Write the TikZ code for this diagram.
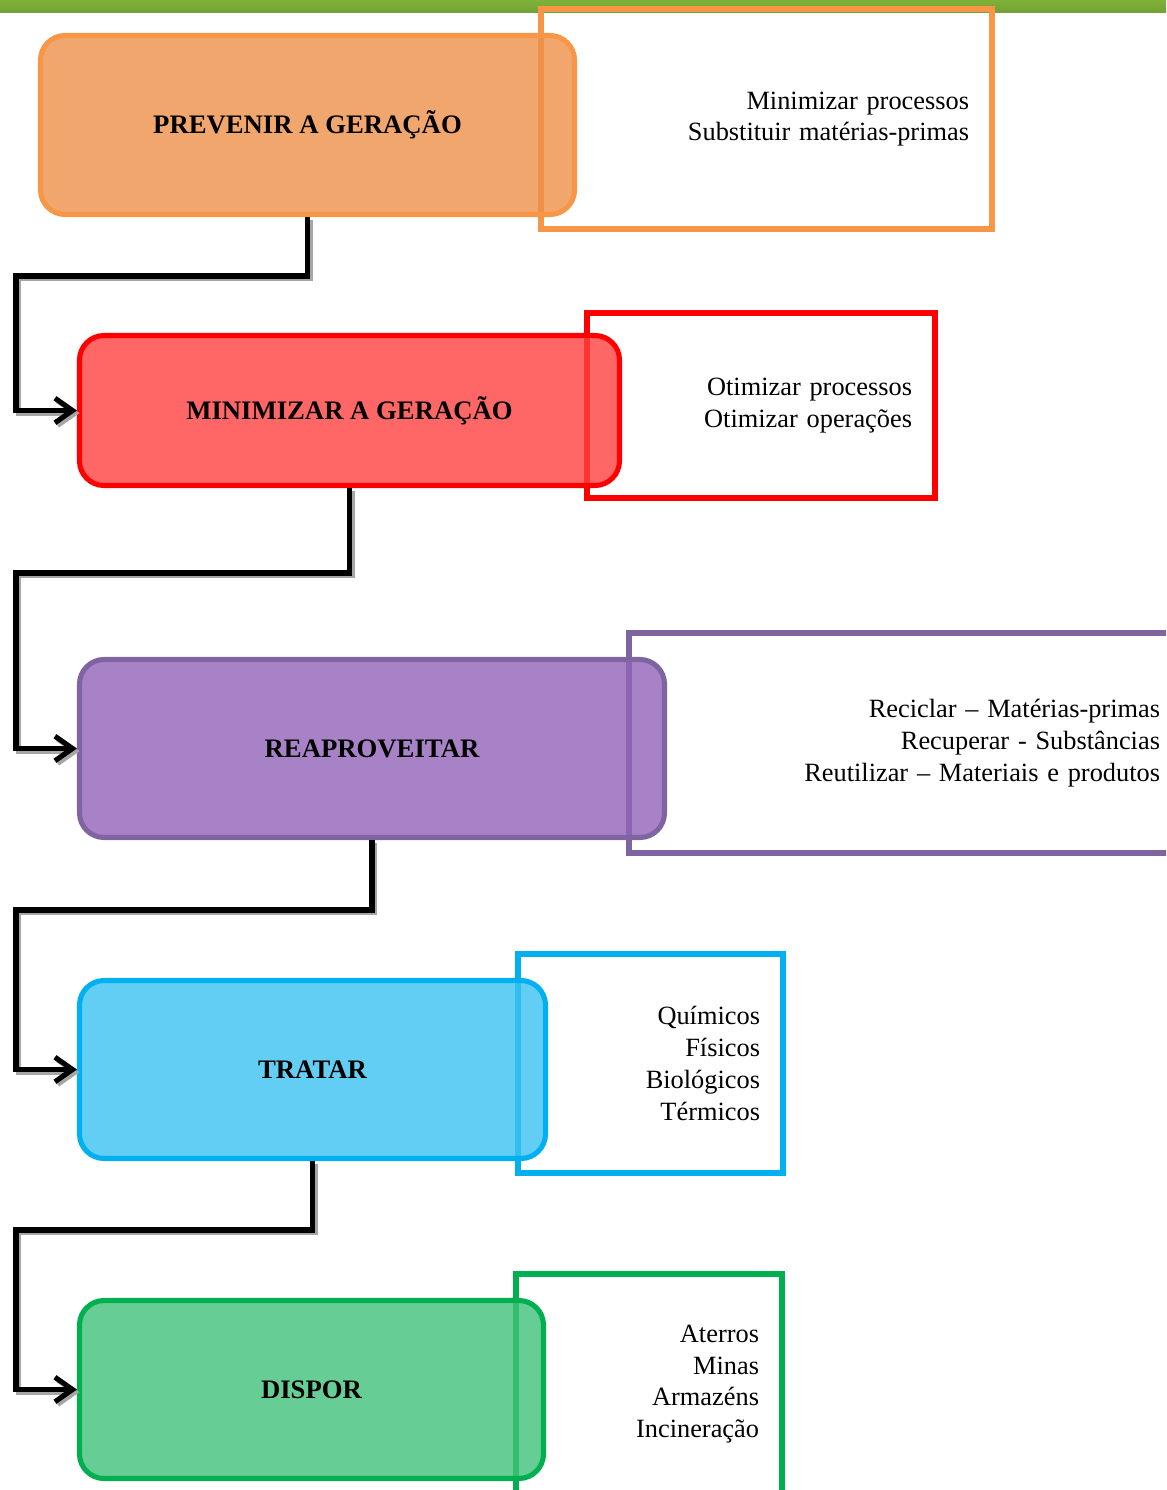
\documentclass[tikz,border=0pt]{standalone}
\usepackage{fontspec}
\setmainfont{Liberation Serif}
\usetikzlibrary{arrows.meta,positioning}
\definecolor{barCol}{RGB}{127,178,57}
\definecolor{prevCol}{RGB}{247,150,70}
\definecolor{prevFill}{RGB}{236,144,71}
\definecolor{minCol}{RGB}{255,0,0}
\definecolor{minFill}{RGB}{255,64,64}
\definecolor{reaCol}{RGB}{128,100,162}
\definecolor{reaFill}{RGB}{146,99,184}
\definecolor{traCol}{RGB}{0,176,240}
\definecolor{traFill}{RGB}{60,194,241}
\definecolor{disCol}{RGB}{0,176,80}
\definecolor{disFill}{RGB}{64,194,121}
\def\pxl{0.02cm}
\tikzset{
  stage/.style={draw,line width=2.9pt,rounded corners=14pt,align=center,
                font=\fontsize{15.2}{18}\selectfont\bfseries,
                fill opacity=0.8,text opacity=1,inner sep=0pt},
  side/.style={draw,line width=2.9pt,align=right,
               font=\fontsize{15}{18.1}\selectfont,inner xsep=23*\pxl,inner ysep=0pt},
  flow/.style={-{Straight Barb[length=10pt,width=14pt]},line width=2.9pt,
               preaction={draw=black!35,line width=2.9pt,
                          transform canvas={shift={(1.5pt,-1.5pt)}}}},
}
\begin{document}
\begin{tikzpicture}[x=\pxl,y=-\pxl]
  \useasboundingbox (0,0) rectangle (1166,1490);
  \clip (0,0) rectangle (1166,1490);
  \shade[top color=barCol,bottom color=barCol!90!black] (0,0) rectangle (1166,13);
  % side boxes
  \node[side,draw=prevCol,minimum width=451*\pxl,text width=405*\pxl,minimum height=220*\pxl] (r1) at (766.5,119)
    {Minimizar processos\\Substituir matérias-primas};
  \node[side,draw=minCol,minimum width=348*\pxl,text width=302*\pxl,minimum height=185*\pxl] (r2) at (761,405.5)
    {Otimizar processos\\Otimizar operações};
  \node[side,draw=reaCol,minimum width=554*\pxl,text width=508*\pxl,minimum height=220*\pxl] (r3) at (906,743)
    {Reciclar – Matérias-primas\\Recuperar - Substâncias\\Reutilizar – Materiais e produtos};
  \node[side,draw=traCol,minimum width=265*\pxl,text width=219*\pxl,minimum height=219*\pxl] (r4) at (650.5,1063.5)
    {Químicos\\Físicos\\Biológicos\\Térmicos};
  \node[side,draw=disCol,minimum width=266*\pxl,text width=220*\pxl,minimum height=220*\pxl] (r5) at (649,1384)
    {Aterros\\Minas\\Armazéns\\Incineração};
  % main stages
  \node[stage,draw=prevCol,fill=prevFill,minimum width=534*\pxl,minimum height=179*\pxl] (p1) at (307.5,125) {PREVENIR A GERAÇÃO};
  \node[stage,draw=minCol,fill=minFill,minimum width=540*\pxl,minimum height=150*\pxl] (p2) at (349.5,410.5) {MINIMIZAR A GERAÇÃO};
  \node[stage,draw=reaCol,fill=reaFill,minimum width=585*\pxl,minimum height=178*\pxl] (p3) at (372,748.5) {REAPROVEITAR};
  \node[stage,draw=traCol,fill=traFill,minimum width=466*\pxl,minimum height=178*\pxl] (p4) at (312.5,1069.5) {TRATAR};
  \node[stage,draw=disCol,fill=disFill,minimum width=464*\pxl,minimum height=178*\pxl] (p5) at (311.5,1389.5) {DISPOR};
  % connectors
  \foreach \a/\b/\y in {p1/p2/276,p2/p3/573,p3/p4/910,p4/p5/1230}
    \draw[flow] (\a.south) |- (16,\y) |- (\b.west);
\end{tikzpicture}
\end{document}
